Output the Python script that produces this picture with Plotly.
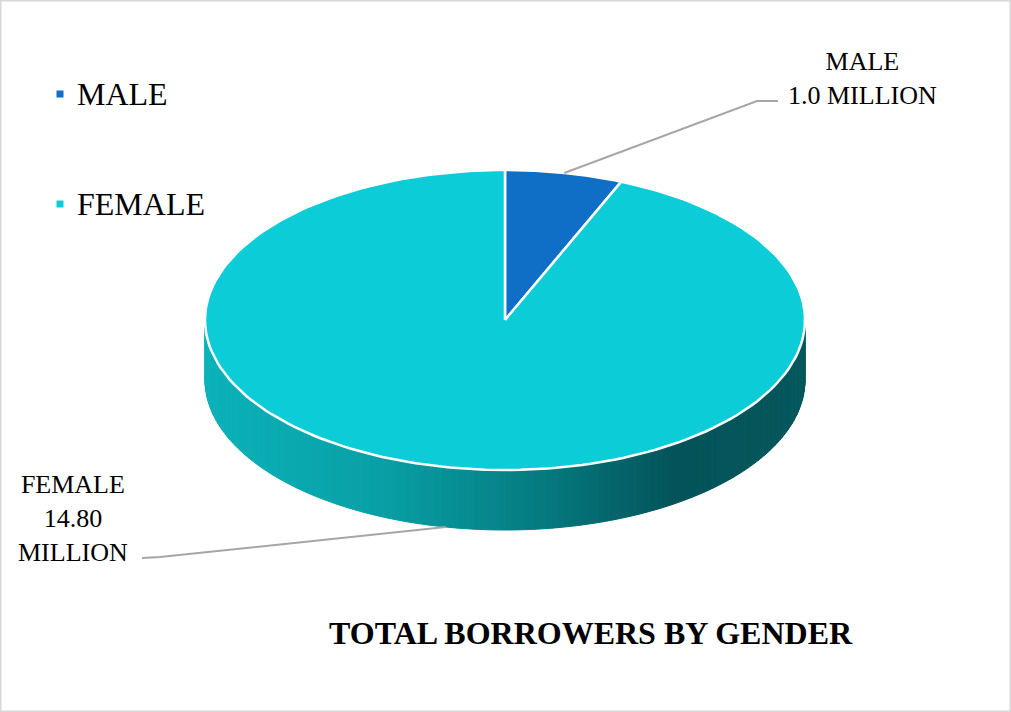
import numpy as np
import plotly.graph_objects as go

# data
CATEGORIES = ["MALE", "FEMALE"]
BORROWERS_MILLION = [1.0, 14.80]
SLICE_LABELS = ["MALE<br>1.0 MILLION", "FEMALE<br>14.80<br>MILLION"]
TITLE = "TOTAL BORROWERS BY GENDER"

COLORS = ["#0f6ec5", "#0ccdd7"]
SIDE_STOPS = [(0.0, "#0bb2b9"), (0.3, "#089fa5"), (0.55, "#057c81"),
              (0.78, "#03545a"), (1.0, "#04575c")]
LEADER = "#a6a6a6"
FONT = "Liberation Serif, Times New Roman, serif"

# pie geometry in pixel-like axis units
CX, CY, RX, RY, DEPTH = 505, 320, 300, 150, 60


def pt(theta, dy=0.0):
    t = np.radians(theta)
    return CX + RX * np.sin(t), CY - RY * np.cos(t) + dy


def hex_rgb(h):
    h = h.lstrip("#")
    return [int(h[i:i + 2], 16) for i in (0, 2, 4)]


def side_color(f):
    for (f0, c0), (f1, c1) in zip(SIDE_STOPS[:-1], SIDE_STOPS[1:]):
        if f0 <= f <= f1:
            k = (f - f0) / (f1 - f0) if f1 > f0 else 0
            a, b = hex_rgb(c0), hex_rgb(c1)
            r = [round(a[i] + (b[i] - a[i]) * k) for i in range(3)]
            return "rgb(%d,%d,%d)" % tuple(r)
    return SIDE_STOPS[-1][1]


total = sum(BORROWERS_MILLION)
angles = np.concatenate([[0], np.cumsum(BORROWERS_MILLION) / total * 360])
mids = (angles[:-1] + angles[1:]) / 2

fig = go.Figure()

# side wall (front half of the disc), drawn as thin strips for the shading
steps = np.linspace(90, 270, 161)
for a0, a1 in zip(steps[:-1], steps[1:]):
    x0, y0 = pt(a0)
    x1, y1 = pt(a1)
    col = side_color(((x0 + x1) / 2 - (CX - RX)) / (2 * RX))
    fig.add_trace(go.Scatter(
        x=[x0, x1, x1, x0, x0], y=[y0, y1, y1 + DEPTH, y0 + DEPTH, y0],
        mode="lines", fill="toself", fillcolor=col,
        line=dict(color=col, width=1), hoverinfo="skip"))

# top face slices
for i, name in enumerate(CATEGORIES):
    th = np.linspace(angles[i], angles[i + 1], 200)
    xs, ys = pt(th)
    fig.add_trace(go.Scatter(
        x=np.concatenate([[CX], xs, [CX]]), y=np.concatenate([[CY], ys, [CY]]),
        mode="lines", fill="toself", fillcolor=COLORS[i],
        line=dict(color="white", width=2.5), name=name,
        hovertemplate=name + ": %{text}<extra></extra>",
        text=["%.2f million" % BORROWERS_MILLION[i]] * 202))

# leader lines + data labels
label_pos = [(862, 78), (73, 518)]
elbows = [((757, 101), (778, 101)), ((160, 557), (142, 558))]
for i in range(len(CATEGORIES)):
    m = mids[i]
    sx, sy = pt(m)
    if 90 < m % 360 < 270:
        sy += DEPTH
    (ex, ey), (tx, ty) = elbows[i]
    fig.add_trace(go.Scatter(
        x=[sx, ex, tx], y=[sy, ey, ty], mode="lines",
        line=dict(color=LEADER, width=2), hoverinfo="skip"))
    fig.add_annotation(x=label_pos[i][0], y=label_pos[i][1], xref="x", yref="y",
                       text=SLICE_LABELS[i], showarrow=False, align="center",
                       font=dict(family=FONT, size=26, color="black"))

# legend
legend_y = [94, 204]
fig.add_trace(go.Scatter(
    x=[60, 60], y=legend_y, mode="markers",
    marker=dict(symbol="square", size=7, color=COLORS), hoverinfo="skip"))
for i, name in enumerate(CATEGORIES):
    fig.add_annotation(x=75, y=legend_y[i], xref="x", yref="y", text=name,
                       showarrow=False, xanchor="left", yanchor="middle",
                       font=dict(family=FONT, size=32, color="black"))

fig.add_annotation(x=591, y=633, xref="x", yref="y", text="<b>" + TITLE + "</b>",
                   showarrow=False, font=dict(family=FONT, size=32, color="black"))

fig.add_shape(type="rect", xref="paper", yref="paper", x0=0, y0=0, x1=1, y1=1,
              line=dict(color="#d9d9d9", width=3))

fig.update_layout(
    width=1011, height=712,
    margin=dict(l=0, r=0, t=0, b=0),
    paper_bgcolor="white", plot_bgcolor="white",
    showlegend=False,
    xaxis=dict(range=[0, 1011], visible=False, fixedrange=True),
    yaxis=dict(range=[712, 0], visible=False, fixedrange=True),
)

fig.write_html("out.html", config={"displayModeBar": False},
               post_script="document.body.style.margin='0';"
                           "document.body.style.overflow='hidden';")
